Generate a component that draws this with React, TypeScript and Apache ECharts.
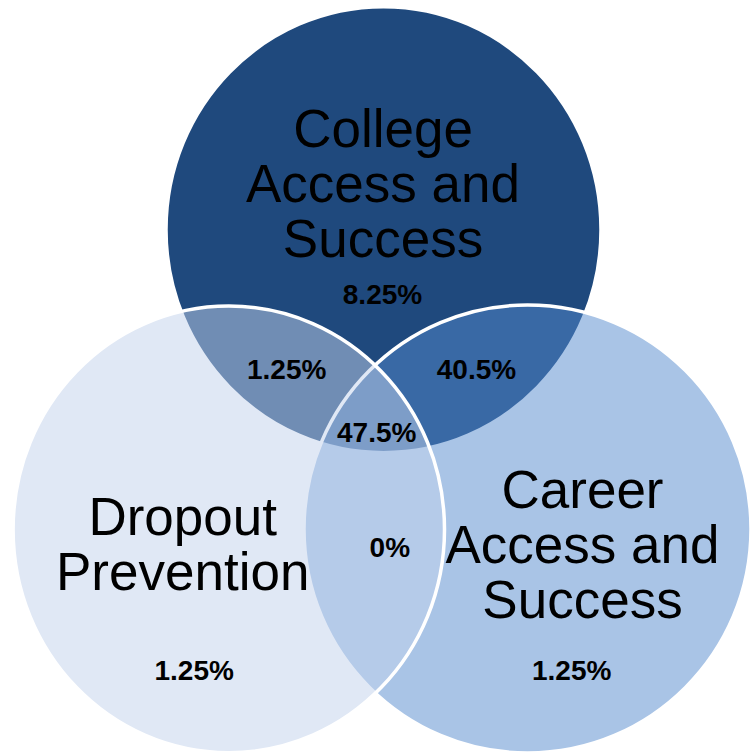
import React, { useEffect, useRef } from "react";
import * as echarts from "echarts";

// ---- data ----
const setNames = ["College\nAccess and\nSuccess", "Dropout\nPrevention", "Career\nAccess and\nSuccess"];
const regionNames = [
  "College only",
  "College & Dropout",
  "College & Career",
  "All three",
  "Dropout & Career",
  "Dropout only",
  "Career only",
];
const regionValues = [8.25, 1.25, 40.5, 47.5, 0, 1.25, 1.25];

// ---- layout (in a 753 x 753 coordinate space) ----
// draw order: College (opaque), Career, Dropout (translucent)
const circleLayout = [
  { set: 0, cx: 383.5, cy: 229.7, rx: 217.5, ry: 223, color: "#1F497D" },
  { set: 2, cx: 527.5, cy: 529, rx: 223.5, ry: 224, color: "rgba(83,137,205,0.5)" },
  { set: 1, cx: 228.8, cy: 529.4, rx: 215.7, ry: 223.3, color: "rgba(193,209,235,0.5)" },
];
const setLabelPos = [
  [383, 183.3],
  [182.7, 544.1],
  [582.5, 544.3],
];
const regionLabelPos = [
  [382.5, 294.3],
  [286.7, 369.6],
  [476.5, 369.6],
  [376.7, 432],
  [389.8, 547],
  [194.2, 670.3],
  [571.7, 670.3],
];

const FONT = "'Liberation Sans', Arial, Helvetica, sans-serif";

export default function App() {
  const ref = useRef<HTMLDivElement>(null);
  useEffect(() => {
    if (!ref.current) return;
    const chart = echarts.init(ref.current, undefined, { renderer: "svg" });
    const circleData = circleLayout.map((c) => [c.cx, c.cy, c.rx, c.ry]);
    const setData = setNames.map((n, i) => [setLabelPos[i][0], setLabelPos[i][1], n]);
    const regionData = regionValues.map((v, i) => [regionLabelPos[i][0], regionLabelPos[i][1], v, regionNames[i]]);
    chart.setOption({
      animation: false,
      backgroundColor: "#ffffff",
      grid: { left: 0, right: 0, top: 0, bottom: 0 },
      xAxis: { type: "value", min: 0, max: 753, show: false },
      yAxis: { type: "value", min: 0, max: 753, inverse: true, show: false },
      series: [
        {
          type: "custom",
          name: "circles",
          coordinateSystem: "cartesian2d",
          data: circleData,
          silent: true,
          renderItem: (params: any, api: any) => {
            const p = api.coord([api.value(0), api.value(1)]);
            const s = api.size([api.value(2), api.value(3)]);
            const c = circleLayout[params.dataIndex];
            return {
              type: "ellipse",
              shape: { cx: p[0], cy: p[1], rx: s[0], ry: s[1] },
              style: { fill: c.color, stroke: "#ffffff", lineWidth: 3.5 },
            };
          },
          z: 1,
        },
        {
          type: "custom",
          name: "sets",
          coordinateSystem: "cartesian2d",
          data: setData,
          silent: true,
          renderItem: (params: any, api: any) => {
            const p = api.coord([api.value(0), api.value(1)]);
            return {
              type: "text",
              x: p[0],
              y: p[1],
              style: {
                text: setNames[params.dataIndex],
                fill: "#000000",
                fontSize: 53,
                fontFamily: FONT,
                lineHeight: 55,
                align: "center",
                verticalAlign: "middle",
              },
            };
          },
          z: 3,
        },
        {
          type: "custom",
          name: "regions",
          coordinateSystem: "cartesian2d",
          data: regionData,
          silent: true,
          renderItem: (params: any, api: any) => {
            const p = api.coord([api.value(0), api.value(1)]);
            return {
              type: "text",
              x: p[0],
              y: p[1],
              style: {
                text: `${regionValues[params.dataIndex]}%`,
                fill: "#000000",
                fontSize: 28,
                fontWeight: "bold",
                fontFamily: FONT,
                align: "center",
                verticalAlign: "middle",
              },
            };
          },
          z: 4,
        },
      ],
    });
    return () => chart.dispose();
  }, []);
  return (
    <div
      ref={ref}
      style={{ position: "absolute", left: 0, top: 0, width: 753, height: 753, background: "#fff" }}
    />
  );
}
